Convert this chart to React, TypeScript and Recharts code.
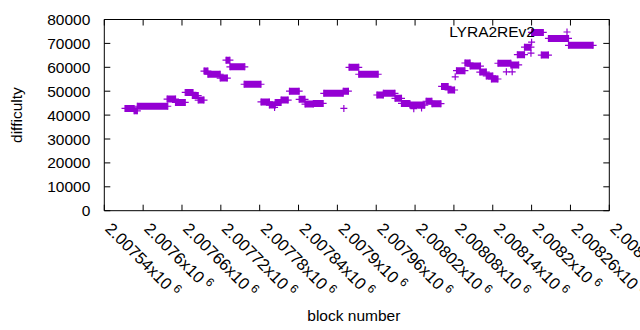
import React from "react";
import {
  ComposedChart,
  Line,
  Scatter,
  XAxis,
  YAxis,
  ReferenceArea,
  Legend,
} from "recharts";

// runs of blocks where the difficulty stays (almost) flat
const runStart = [
  2007572, 2007586, 2007591, 2007637, 2007650, 2007665, 2007676, 2007685,
  2007694, 2007700, 2007719, 2007728, 2007734, 2007756, 2007782, 2007795,
  2007804, 2007813, 2007826, 2007841, 2007850, 2007863, 2007879, 2007909,
  2007918, 2007933, 2007961, 2007971, 2007989, 2007999, 2008012, 2008037,
  2008046, 2008061, 2008071, 2008084, 2008097, 2008105, 2008120, 2008130,
  2008138, 2008148, 2008168, 2008178, 2008189, 2008200, 2008215, 2008226,
  2008257,
];
const runEnd = [
  2007586, 2007591, 2007638, 2007650, 2007665, 2007677, 2007685, 2007694,
  2007700, 2007719, 2007730, 2007734, 2007757, 2007782, 2007795, 2007804,
  2007813, 2007824, 2007841, 2007850, 2007863, 2007878, 2007909, 2007917,
  2007933, 2007963, 2007971, 2007989, 2007999, 2008012, 2008035, 2008046,
  2008060, 2008071, 2008081, 2008097, 2008105, 2008121, 2008130, 2008140,
  2008148, 2008168, 2008180, 2008189, 2008199, 2008218, 2008226, 2008257,
  2008295,
];
const runDifficulty = [
  42800, 41800, 43700, 46700, 45300, 49500, 48200, 46300, 58400, 57100,
  55500, 63000, 60200, 52900, 45500, 44200, 45300, 46300, 50000, 46600,
  44600, 44900, 49100, 50000, 60000, 57100, 48400, 49100, 47000, 44900,
  44200, 45800, 44800, 52000, 50500, 58600, 61800, 60500, 58000, 56400,
  55100, 61700, 61000, 65300, 68400, 74600, 65100, 72100, 69200,
];

// stray single blocks
const singleBlock = [
  2007803, 2007910, 2008018, 2008030, 2008082, 2008161, 2008170, 2008199,
  2008200,
];
const singleDifficulty = [
  43200, 42800, 42700, 43000, 56000, 58100, 58100, 65900, 70500,
];

const xTicks = [
  2007540, 2007600, 2007660, 2007720, 2007780, 2007840, 2007900, 2007960,
  2008020, 2008080, 2008140, 2008200, 2008260, 2008320,
];
const yTicks = [0, 10000, 20000, 30000, 40000, 50000, 60000, 70000, 80000];

const COLOR = "#9400d3";
const FONT = "'Liberation Sans', Arial, sans-serif";
const FS = 15.5;

const PLOT_LEFT = 104.3;
const PLOT_RIGHT = 609.3;
const PLOT_TOP = 19.5;
const PLOT_BOTTOM = 210.7;
const TICK = 6;

const runData: { block: number; difficulty: number | null }[] = [];
runStart.forEach((s, i) => {
  runData.push({ block: s, difficulty: runDifficulty[i] });
  runData.push({ block: runEnd[i], difficulty: runDifficulty[i] });
  runData.push({ block: runEnd[i], difficulty: null });
});

const singleData = singleBlock.map((b, i) => ({
  block: b,
  difficulty: singleDifficulty[i],
}));

const Plus = (props: any) => {
  const { cx, cy } = props;
  if (cx == null || cy == null || isNaN(cx) || isNaN(cy)) return <g />;
  return (
    <path
      d={`M${cx - 3.5},${cy}H${cx + 3.5}M${cx},${cy - 3.5}V${cy + 3.5}`}
      stroke={COLOR}
      strokeWidth={1.2}
      fill="none"
    />
  );
};

const fmtMant = (v: number) => String(Number((v / 1e6).toPrecision(6)));

const XTick = (props: any) => {
  const { x, payload } = props;
  const ay = PLOT_BOTTOM + 19;
  return (
    <g>
      <line x1={x} x2={x} y1={PLOT_BOTTOM} y2={PLOT_BOTTOM - TICK} stroke="#000" />
      <line x1={x} x2={x} y1={PLOT_TOP} y2={PLOT_TOP + TICK} stroke="#000" />
      <text
        x={x}
        y={ay}
        transform={`rotate(45 ${x} ${ay})`}
        fontFamily={FONT}
        fontSize={16.5}
        fill="#000"
        textAnchor="start"
      >
        {fmtMant(payload.value)}x10
        <tspan dx={4} dy={-6} fontSize={12}>
          6
        </tspan>
      </text>
    </g>
  );
};

const YTick = (props: any) => {
  const { y, payload } = props;
  return (
    <g>
      <line x1={PLOT_LEFT} x2={PLOT_LEFT + TICK} y1={y} y2={y} stroke="#000" />
      <line x1={PLOT_RIGHT - TICK} x2={PLOT_RIGHT} y1={y} y2={y} stroke="#000" />
      <text
        x={PLOT_LEFT - 14}
        y={y}
        dy="0.36em"
        fontFamily={FONT}
        fontSize={FS}
        fill="#000"
        textAnchor="end"
      >
        {payload.value}
      </text>
    </g>
  );
};

const XTitle = () => (
  <text
    x={(PLOT_LEFT + PLOT_RIGHT) / 2 - 3}
    y={321}
    textAnchor="middle"
    fontFamily={FONT}
    fontSize={FS}
    fill="#000"
  >
    block number
  </text>
);

const YTitle = () => (
  <text
    x={0}
    y={0}
    transform={`translate(22 ${(PLOT_TOP + PLOT_BOTTOM) / 2}) rotate(-90)`}
    textAnchor="middle"
    fontFamily={FONT}
    fontSize={FS}
    fill="#000"
  >
    difficulty
  </text>
);

const KeyBox = () => (
  <div style={{ position: "relative", width: 640, height: 20 }}>
    <span
      style={{
        position: "absolute",
        right: 640 - 535,
        top: 0,
        lineHeight: "20px",
        fontFamily: FONT,
        fontSize: FS,
        color: "#000",
        whiteSpace: "nowrap",
      }}
    >
      LYRA2REv2
    </span>
    <svg
      style={{ position: "absolute", left: 560, top: 3 }}
      width={14}
      height={14}
    >
      <Plus cx={7} cy={7} />
    </svg>
  </div>
);

export default function App() {
  return (
    <div
      style={{
        position: "absolute",
        left: 0,
        top: 0,
        width: 640,
        height: 330,
        background: "#fff",
      }}
    >
      <ComposedChart
        width={640}
        height={330}
        data={runData}
        margin={{ top: PLOT_TOP, right: 640 - PLOT_RIGHT, bottom: 0, left: 0 }}
      >
        <XAxis
          dataKey="block"
          type="number"
          domain={[xTicks[0], xTicks[xTicks.length - 1]]}
          ticks={xTicks}
          interval={0}
          height={330 - PLOT_BOTTOM}
          axisLine={false}
          tickLine={false}
          tickSize={0}
          tickMargin={0}
          tick={<XTick />}
          allowDataOverflow
          label={<XTitle />}
        />
        <YAxis
          type="number"
          domain={[0, 80000]}
          ticks={yTicks}
          interval={0}
          width={PLOT_LEFT}
          axisLine={false}
          tickLine={false}
          tickSize={0}
          tick={<YTick />}
          allowDataOverflow
          label={<YTitle />}
        />
        <Legend
          layout="horizontal"
          verticalAlign="middle"
          align="center"
          wrapperStyle={{ top: 22, left: 0, width: 640 }}
          content={<KeyBox />}
        />
        <Line
          dataKey="difficulty"
          name="LYRA2REv2"
          type="linear"
          stroke={COLOR}
          strokeWidth={7}
          strokeLinecap="butt"
          connectNulls={false}
          dot={(p: any) => <Plus key={`d-${p.index}`} cx={p.cx} cy={p.cy} />}
          activeDot={false}
          isAnimationActive={false}
        />
        <Scatter
          data={singleData}
          dataKey="difficulty"
          legendType="none"
          shape={(p: any) => <Plus cx={p.cx} cy={p.cy} />}
          isAnimationActive={false}
        />
        <ReferenceArea
          x1={xTicks[0]}
          x2={xTicks[xTicks.length - 1]}
          y1={0}
          y2={80000}
          fill="none"
          stroke="#000"
          strokeWidth={1}
        />
      </ComposedChart>
    </div>
  );
}
